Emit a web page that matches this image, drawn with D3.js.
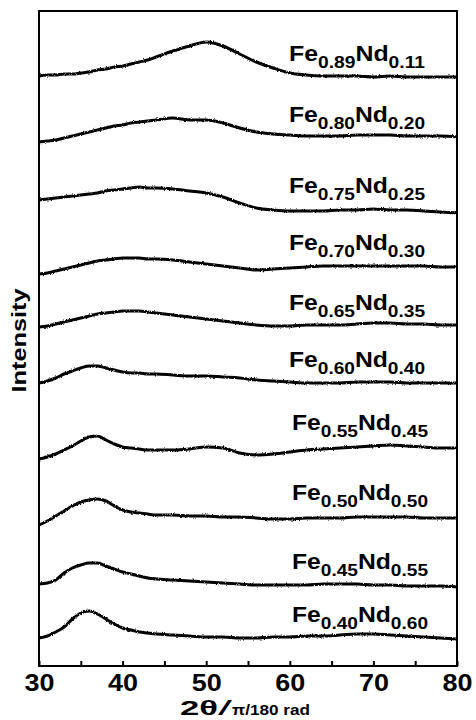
<!DOCTYPE html>
<html>
<head>
<meta charset="utf-8">
<script src="https://cdn.jsdelivr.net/npm/d3@7"></script>
<style>
  html, body { margin: 0; padding: 0; background: #fff; }
  svg { display: block; }
  text { font-family: "Liberation Sans", Arial, Helvetica, sans-serif; font-weight: bold; fill: #000; }
</style>
</head>
<body>
<svg id="chart" width="476" height="720"></svg>
<script>
// 2θ sampling (degrees): 1° steps through the amorphous halo region, 2° beyond
const twoTheta = [30,31,32,33,34,35,36,37,38,39,40,41,42,43,44,
                  46,48,50,52,54,56,58,60,62,64,66,68,70,72,74,76,78,80];

// Sample compositions (Fe fraction, Nd fraction), top to bottom
const feFrac = ["0.89","0.80","0.75","0.70","0.65","0.60","0.55","0.50","0.45","0.40"];
const ndFrac = ["0.11","0.20","0.25","0.30","0.35","0.40","0.45","0.50","0.55","0.60"];

// Diffracted intensity (a.u.) of each film, one array per composition
const iFe089 = [1,2,2,3,3,4,5,7,8,10,11,13,15,17,20, 26,31,35,31,23,15,9,4,2,1,1,1,0,1,0,0,0,0];
const iFe080 = [0,1,2,4,6,8,10,12,14,16,17,19,20,21,22, 24,22,22,19,14,10,8,7,6,6,6,7,7,7,6,6,6,5];
const iFe075 = [13,14,15,16,17,18,19,20,22,23,24,25,26,25,25, 24,22,20,16,10,5,3,2,2,2,3,3,4,3,3,2,1,0];
const iFe070 = [0,1,3,5,7,9,11,13,14,15,16,16,16,15,15, 14,12,10,8,6,4,5,6,7,8,8,8,8,8,8,8,7,7];
const iFe065 = [0,1,3,5,7,9,11,13,14,15,16,16,16,15,14, 12,10,8,6,4,2,1,1,2,2,2,3,4,4,3,3,2,2];
const iFe060 = [0,2,5,9,12,15,17,17,15,13,11,10,10,9,9, 8,7,7,6,5,3,2,1,0,0,0,1,1,1,0,0,0,0];
const iFe055 = [0,2,5,9,13,18,22,23,19,15,12,11,10,9,9, 9,10,12,11,6,4,5,7,9,10,11,12,13,14,13,12,11,11];
const iFe050 = [0,4,9,14,19,23,25,26,24,19,15,13,12,11,10, 10,9,9,8,8,7,6,6,7,7,7,8,8,8,8,7,7,7];
const iFe045 = [3,4,7,14,19,22,24,24,21,18,15,13,11,9,8, 7,6,5,4,3,2,2,2,2,3,3,3,2,2,1,1,1,0];
const iFe040 = [1,3,7,12,20,26,28,25,20,15,11,9,7,6,5, 4,3,2,2,1,1,2,2,3,3,4,5,5,4,3,2,1,0];

// Vertical stacking offset (a.u.) applied to each pattern
const offsets = [589, 524, 453, 392, 339, 283, 207, 141, 79, 27];

// Baseline level (a.u.) of each composition tag on the same intensity axis
const labelLevels = [605, 544, 473, 416, 356, 299, 236, 166, 97, 44];

const xTicks = [30,35,40,45,50,55,60,65,70,75,80];

const series = [iFe089, iFe080, iFe075, iFe070, iFe065, iFe060, iFe055, iFe050, iFe045, iFe040];

const svg = d3.select("#chart");
const frame = { left: 39, right: 457, top: 11, bottom: 666 };

const x = d3.scaleLinear().domain([30, 80]).range([frame.left, frame.right]);
const y = d3.scaleLinear().domain([0, 655]).range([frame.bottom, frame.top]);

// Grainy trace texture of the recorded scans
const defs = svg.append("defs");
const f = defs.append("filter").attr("id", "rough")
  .attr("x", "-2%").attr("y", "-20%").attr("width", "104%").attr("height", "140%");
f.append("feTurbulence").attr("type", "fractalNoise").attr("baseFrequency", "1.1 0.7")
  .attr("numOctaves", 2).attr("seed", 3).attr("result", "noise");
f.append("feDisplacementMap").attr("in", "SourceGraphic").attr("in2", "noise")
  .attr("scale", 2.6).attr("xChannelSelector", "R").attr("yChannelSelector", "G");

defs.append("clipPath").attr("id", "plotClip").append("rect")
  .attr("x", frame.left).attr("y", frame.top)
  .attr("width", frame.right - frame.left).attr("height", frame.bottom - frame.top);

const line = d3.line().curve(d3.curveMonotoneX);

const traces = svg.append("g").attr("clip-path", "url(#plotClip)");
series.forEach((vals, i) => {
  const pts = vals.map((v, k) => [x(twoTheta[k]), y(v + offsets[i])]);
  traces.append("path")
    .attr("d", line(pts))
    .attr("fill", "none")
    .attr("stroke", "#000")
    .attr("stroke-width", 3)
    .attr("stroke-linejoin", "round")
    .attr("filter", "url(#rough)");
});

// Frame
svg.append("rect")
  .attr("x", frame.left).attr("y", frame.top)
  .attr("width", frame.right - frame.left).attr("height", frame.bottom - frame.top)
  .attr("fill", "none").attr("stroke", "#000").attr("stroke-width", 2);

// Bottom axis: inward ticks every 5°, numbers every 10°
const xAxis = d3.axisBottom(x).tickValues(xTicks).tickSize(-5).tickPadding(9)
  .tickFormat(d => d % 10 === 0 ? d : "");
const ax = svg.append("g").attr("transform", `translate(0,${frame.bottom})`).call(xAxis);
ax.select(".domain").remove();
ax.selectAll(".tick line").attr("stroke", "#000").attr("stroke-width", 2);
ax.selectAll(".tick text")
  .style("font-family", "'Liberation Sans', Arial, sans-serif")
  .style("font-weight", "bold").style("font-size", "23px").attr("fill", "#000")
  .attr("textLength", 30).attr("lengthAdjust", "spacingAndGlyphs");

// Composition labels
series.forEach((_, i) => {
  const t = svg.append("text")
    .attr("x", 289 + (i >= 6 ? 3 : 0))
    .attr("y", y(labelLevels[i]))
    .attr("textLength", 136)
    .attr("lengthAdjust", "spacingAndGlyphs")
    .style("font-size", "22px");
  t.append("tspan").text("Fe");
  t.append("tspan").attr("dy", 7).style("font-size", "17px").text(feFrac[i]);
  t.append("tspan").attr("dy", -7).text("Nd");
  t.append("tspan").attr("dy", 7).style("font-size", "17px").text(ndFrac[i]);
});

// Axis titles
svg.append("text")
  .attr("transform", `translate(26,${(frame.top + frame.bottom) / 2 + 2}) rotate(-90)`)
  .attr("text-anchor", "middle")
  .attr("textLength", 104).attr("lengthAdjust", "spacingAndGlyphs")
  .style("font-size", "21px")
  .text("Intensity");

const xt = svg.append("g");
xt.append("text").attr("x", 180).attr("y", 715)
  .attr("textLength", 38).attr("lengthAdjust", "spacingAndGlyphs")
  .style("font-size", "21px").text("2θ");
xt.append("text").attr("x", 218).attr("y", 715)
  .attr("textLength", 14).attr("lengthAdjust", "spacingAndGlyphs")
  .style("font-size", "21px").style("font-weight", "normal").text("/");
xt.append("text").attr("x", 232).attr("y", 715)
  .attr("textLength", 78).attr("lengthAdjust", "spacingAndGlyphs")
  .style("font-size", "15px").text("π/180 rad");
</script>
</body>
</html>
